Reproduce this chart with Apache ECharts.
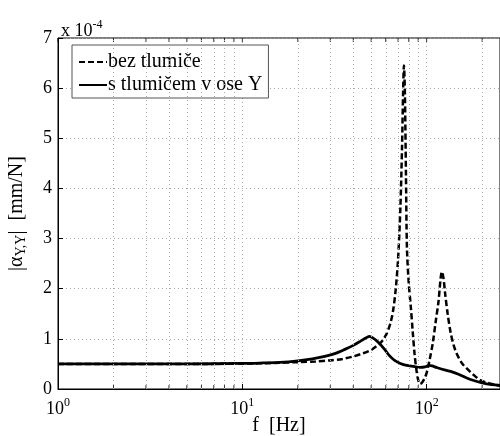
<!DOCTYPE html>
<html><head><meta charset="utf-8">
<script src="https://cdn.jsdelivr.net/npm/echarts@6/dist/echarts.min.js"></script>
<style>html,body{margin:0;padding:0;background:#fff}#c{width:500px;height:436px}</style>
</head><body><div id="c"></div>
<script>
// Values in units of 1e-4 mm/N
const freqDashed = [1,2,5,10,15,20,25,30,35,40,45,50,55,58,61,64,66,68,70,72,73.5,74.5,75.3,76.2,77.2,78.2,80,82,84,86,88,90,92,94,97,100,104,108,112,116,119,121,123.5,126,130,135,140,145,155,165,180,195,215,240,250];
const valDashed  = [0.5,0.5,0.5,0.505,0.52,0.535,0.55,0.57,0.6,0.65,0.71,0.78,0.89,0.98,1.12,1.35,1.6,2.0,2.6,3.6,4.8,5.9,6.45,5.9,4.3,2.8,2.1,1.65,1.15,0.7,0.38,0.18,0.1,0.12,0.2,0.32,0.6,0.92,1.35,1.75,2.2,2.34,2.2,1.9,1.5,1.12,0.88,0.72,0.52,0.41,0.28,0.18,0.12,0.08,0.07];
const freqSolid = [1,5,10,13,16,20,24,28,32,36,40,44,47,49,51,54,57,60,63,67,72,78,85,92,98,103,107,113,125,135,150,165,180,200,225,250];
const valSolid  = [0.5,0.5,0.51,0.52,0.53,0.56,0.6,0.65,0.71,0.79,0.87,0.96,1.02,1.05,1.02,0.95,0.86,0.76,0.66,0.57,0.51,0.47,0.45,0.43,0.44,0.47,0.46,0.43,0.38,0.35,0.29,0.22,0.17,0.12,0.085,0.07];
const minorTicks = [2,3,4,5,6,7,8,9,20,30,40,50,60,70,80,90,200];
const majorTicks = [1,10,100];
const yMin = 0, yMax = 7;
const names = ['bez tlumiče','s tlumičem v ose Y'];

const FONT = 'Liberation Serif';
const zip = (a,b) => a.map((x,i)=>[x,b[i]]);
const chart = echarts.init(document.getElementById('c'));
const allTicks = majorTicks.concat(minorTicks);
chart.setOption({
  animation:false,
  textStyle:{fontFamily:FONT},
  title:{text:'{a|x 10}{s|-4}', left:56, top:14,
    textStyle:{rich:{a:{fontFamily:FONT,fontSize:18,fontWeight:'normal',color:'#000'},s:{fontFamily:FONT,fontSize:12,fontWeight:'normal',color:'#000',padding:[0,0,13,0]}}}},
  grid:{left:58,right:0,top:38,bottom:47,show:true,borderColor:'#000',borderWidth:1,backgroundColor:'transparent',outerBoundsMode:'none',containLabel:false},
  legend:{orient:'vertical',left:72,top:45,padding:[7,6,3,6],itemGap:3,itemWidth:28,itemHeight:18,
    backgroundColor:'#fff',borderColor:'#555',borderWidth:1,
    itemStyle:{opacity:0},
    textStyle:{fontFamily:FONT,fontSize:20,color:'#000',padding:[0,0,0,-4]},data:names},
  xAxis:{type:'log',logBase:10,min:1,max:250,
    axisLine:{lineStyle:{color:'#000'}},
    axisTick:{inside:true,length:5,lineStyle:{color:'#000'}},
    splitLine:{show:true,lineStyle:{color:'#aaa',type:[1,3]}},
    axisLabel:{showMaxLabel:false,margin:8,color:'#000',
      formatter:v=>'{b|10}{s|'+Math.round(Math.log10(v))+'}',
      rich:{b:{fontFamily:FONT,fontSize:18,color:'#000'},s:{fontFamily:FONT,fontSize:12,color:'#000',padding:[0,0,13,0]}}},
    name:'f  [Hz]',nameLocation:'middle',nameGap:27,nameMoveOverlap:false,
    nameTextStyle:{fontFamily:FONT,fontSize:20,color:'#000'}},
  yAxis:{type:'value',min:yMin,max:yMax,interval:1,
    axisLine:{show:true,lineStyle:{color:'#000'}},
    axisTick:{show:true,inside:true,length:5,lineStyle:{color:'#000'}},
    splitLine:{show:true,lineStyle:{color:'#aaa',type:[1,3]}},
    axisLabel:{color:'#000',fontFamily:FONT,fontSize:18,margin:6},
    name:'{a||α}{s|Y,Y}{a||  [mm/N]}',nameLocation:'middle',nameGap:30,nameMoveOverlap:false,
    nameTextStyle:{rich:{a:{fontFamily:FONT,fontSize:20,color:'#000'},s:{fontFamily:FONT,fontSize:14,color:'#000',padding:[9,0,0,0]}}}},
  series:[
    {type:'line',data:[],silent:true,z:1,
      markLine:{silent:true,symbol:['none','none'],label:{show:false},animation:false,
        lineStyle:{color:'#aaa',type:[1,3],width:1},
        data:minorTicks.map(v=>({xAxis:v}))}},
    {type:'scatter',silent:true,z:2,symbol:'rect',symbolSize:[1,4],symbolOffset:[0,-2],
      itemStyle:{color:'#000'},data:minorTicks.map(v=>[v,yMin]),clip:false},
    {type:'scatter',silent:true,z:2,symbol:'rect',symbolSize:[1,4],symbolOffset:[0,2],
      itemStyle:{color:'#000'},data:allTicks.map(v=>[v,yMax]),clip:false},
    {name:names[0],type:'line',z:3,symbol:'none',smooth:0.3,data:zip(freqDashed,valDashed),
      lineStyle:{color:'#000',width:2.5,type:[6,3]},itemStyle:{color:'#000'}},
    {name:names[1],type:'line',z:3,symbol:'none',smooth:0.3,data:zip(freqSolid,valSolid),
      lineStyle:{color:'#000',width:2.8,type:'solid'},itemStyle:{color:'#000'}}
  ]
});
</script></body></html>
